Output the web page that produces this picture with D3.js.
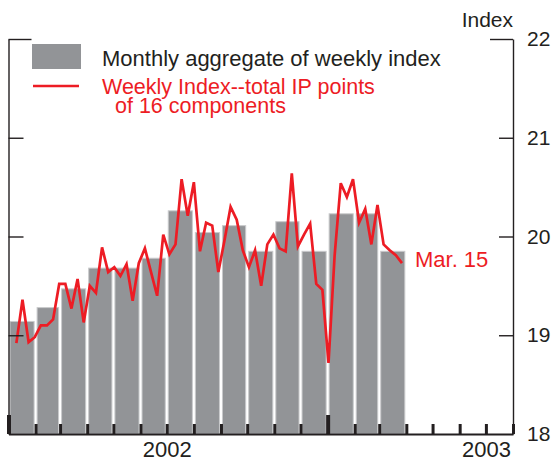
<!DOCTYPE html>
<html>
<head>
<meta charset="utf-8">
<script src="https://cdn.jsdelivr.net/npm/d3@7"></script>
<style>
  body { margin: 0; background: #fff; }
  svg { display: block; font-family: "Liberation Sans", Arial, Helvetica, sans-serif; }
  .axis path, .axis line { stroke: #231f20; }
  .axis text { fill: #231f20; font-family: "Liberation Sans", Arial, sans-serif; }
</style>
</head>
<body>
<div class="chart-container"></div>
<script>
var totalWidth = 554;
var totalHeight = 462;
var plot = { left: 8.5, right: 513, top: 39, bottom: 434 };

// monthly aggregate bars, Jan 2002 - Mar 2003
var months = ['2002-01', '2002-02', '2002-03', '2002-04', '2002-05', '2002-06',
  '2002-07', '2002-08', '2002-09', '2002-10', '2002-11', '2002-12',
  '2003-01', '2003-02', '2003-03'];
var monthlyIndex = [19.14, 19.28, 19.47, 19.68, 19.68, 19.78,
  20.26, 20.04, 20.11, 19.85, 20.15, 19.85,
  20.23, 20.23, 19.85];

// weekly index, one value per week from the first week of 2002
var weeklyStart = '2002-01-10';
var weeklyIndex = [18.92, 19.36, 18.93, 18.98, 19.10, 19.10, 19.16, 19.52,
  19.52, 19.27, 19.57, 19.13, 19.50, 19.43, 19.89, 19.64,
  19.69, 19.60, 19.72, 19.35, 19.73, 19.88, 19.64, 19.40,
  20.02, 19.82, 19.92, 20.58, 20.21, 20.55, 19.85, 20.14,
  20.11, 19.64, 19.96, 20.30, 20.17, 19.86, 19.69, 19.86,
  19.50, 19.92, 20.02, 19.88, 19.85, 20.64, 19.90, 20.02,
  20.13, 19.52, 19.46, 18.72, 19.81, 20.54, 20.40, 20.58,
  20.14, 20.28, 19.92, 20.32, 19.92, 19.86, 19.81, 19.73];

var yTicks = [18, 19, 20, 21, 22];
var yearLabels = ['2002', '2003'];
var lastLabel = 'Mar. 15';
var legendBars = 'Monthly aggregate of weekly index';
var legendLine = ['Weekly Index--total IP points', 'of 16 components'];

var parseMonth = d3.timeParse('%Y-%m');
var parseDay = d3.timeParse('%Y-%m-%d');

var svg = d3.select('.chart-container').append('svg')
  .attr('width', totalWidth)
  .attr('height', totalHeight);

var x = d3.scaleTime()
  .domain([new Date(2002, 0, 1), new Date(2003, 7, 1)])
  .range([plot.left, plot.right]);

var y = d3.scaleLinear()
  .domain([18, 22])
  .range([plot.bottom, plot.top]);

/*
 * Bars
 */
var barData = months.map((m, i) => ({ start: parseMonth(m), value: monthlyIndex[i] }));

svg.append('g').selectAll('rect')
  .data(barData).enter()
  .append('rect')
    .attr('x', d => x(d.start) + 1.5)
    .attr('y', d => y(d.value))
    .attr('width', d => x(d3.timeMonth.offset(d.start, 1)) - x(d.start) - 3)
    .attr('height', d => y(18) - y(d.value))
    .attr('fill', '#929497')
    .attr('stroke', '#c9cacc')
    .attr('stroke-width', 1);

/*
 * Weekly line
 */
var start = parseDay(weeklyStart);
var weekData = weeklyIndex.map((v, i) => ({ date: d3.timeDay.offset(start, 7 * i), value: v }));

var line = d3.line()
  .x(d => x(d.date))
  .y(d => y(d.value));

svg.append('path')
  .datum(weekData)
  .attr('d', line)
  .attr('fill', 'none')
  .attr('stroke', '#ed1c24')
  .attr('stroke-width', 2.7);

var last = weekData[weekData.length - 1];
svg.append('text')
  .attr('x', x(last.date) + 13)
  .attr('y', y(last.value) + 4)
  .attr('fill', '#ed1c24')
  .attr('font-size', 22)
  .text(lastLabel);

/*
 * Axes
 */
var gLeft = svg.append('g')
  .attr('class', 'axis')
  .attr('transform', `translate(${plot.left},0)`)
  .call(d3.axisLeft(y).tickValues(yTicks).tickSizeInner(-15).tickSizeOuter(0).tickFormat(''));
gLeft.select('.domain').attr('stroke-width', 1.4);
gLeft.selectAll('.tick line').attr('stroke-width', 1.4)
  .filter(d => d === 22).attr('x2', 23);
gLeft.selectAll('.tick').filter(d => d === 18).remove();

var gRight = svg.append('g')
  .attr('class', 'axis')
  .attr('transform', `translate(${plot.right},0)`)
  .call(d3.axisRight(y).tickValues(yTicks).tickSizeInner(-14).tickSizeOuter(0)
    .tickPadding(14).tickFormat(d3.format('d')));
gRight.select('.domain').attr('stroke-width', 1.4);
gRight.selectAll('.tick line').attr('stroke-width', 1.4)
  .filter(d => d === 22).attr('x2', -23);
gRight.selectAll('.tick').filter(d => d === 18).select('line').remove();
gRight.selectAll('.tick text').attr('font-size', 21);

var gBottom = svg.append('g')
  .attr('class', 'axis')
  .attr('transform', `translate(0,${plot.bottom})`)
  .call(d3.axisBottom(x).ticks(d3.timeMonth.every(1)).tickSizeInner(-10).tickSizeOuter(0).tickFormat(''));
gBottom.select('.domain').attr('stroke-width', 2).attr('stroke', '#3a3a3c');
gBottom.selectAll('.tick line').attr('stroke-width', 3)
  .filter(d => d.getMonth() === 0)
    .attr('y2', -19)
    .attr('stroke-width', 4);

var gYears = svg.append('g')
  .attr('class', 'axis')
  .attr('transform', `translate(0,${plot.bottom})`)
  .call(d3.axisBottom(x)
    .tickValues(yearLabels.map(yr => new Date(+yr, 6, 1)))
    .tickSize(0)
    .tickPadding(7)
    .tickFormat(d3.timeFormat('%Y')));
gYears.select('.domain').remove();
gYears.selectAll('text').attr('font-size', 22);

svg.append('text')
  .attr('x', plot.right)
  .attr('y', 27)
  .attr('text-anchor', 'end')
  .attr('font-size', 21)
  .attr('fill', '#231f20')
  .text('Index');

/*
 * Legend
 */
var legend = svg.append('g');

legend.append('rect')
  .attr('x', 32).attr('y', 44)
  .attr('width', 49).attr('height', 25)
  .attr('fill', '#929497');

legend.append('line')
  .attr('x1', 33).attr('x2', 79)
  .attr('y1', 86).attr('y2', 86)
  .attr('stroke', '#ed1c24')
  .attr('stroke-width', 2.7);

legend.append('text')
  .attr('x', 102).attr('y', 66)
  .attr('font-size', 22)
  .attr('fill', '#231f20')
  .text(legendBars);

legend.append('text')
  .attr('x', 102).attr('y', 94)
  .attr('font-size', 21.5)
  .attr('fill', '#ed1c24')
  .text(legendLine[0]);

legend.append('text')
  .attr('x', 115).attr('y', 113)
  .attr('font-size', 21.5)
  .attr('fill', '#ed1c24')
  .text(legendLine[1]);
</script>
</body>
</html>
